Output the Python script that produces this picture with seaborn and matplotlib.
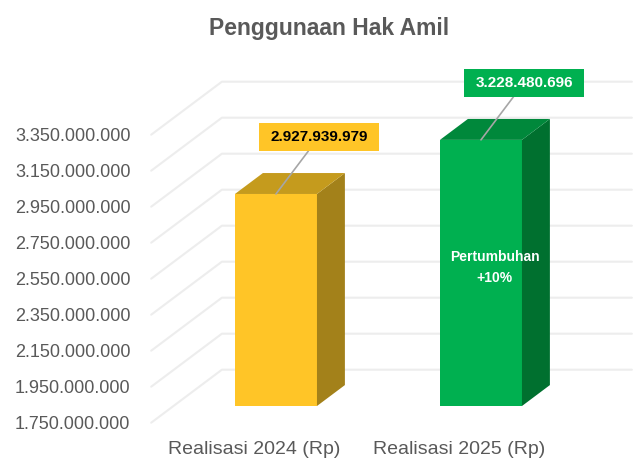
import matplotlib
matplotlib.use("Agg")
import matplotlib.pyplot as plt
import matplotlib.transforms as mtransforms
from matplotlib.patches import Polygon
from matplotlib.path import Path
import numpy as np
import pandas as pd
import seaborn as sns

# --- data -------------------------------------------------------------
categories = ["Realisasi 2024 (Rp)", "Realisasi 2025 (Rp)"]
values = [2927939979, 3228480696]
value_labels = ["2.927.939.979", "3.228.480.696"]
growth_label = "Pertumbuhan\n+10%"
y_ticks = [1750000000, 1950000000, 2150000000, 2350000000, 2550000000,
           2750000000, 2950000000, 3150000000, 3350000000]
y_tick_labels = ["1.750.000.000", "1.950.000.000", "2.150.000.000",
                 "2.350.000.000", "2.550.000.000", "2.750.000.000",
                 "2.950.000.000", "3.150.000.000", "3.350.000.000"]
title = "Penggunaan Hak Amil"

# --- style ------------------------------------------------------------
front_colors = ["#FFC527", "#00B050"]
top_colors = ["#C59B1D", "#00883B"]
side_colors = ["#A3811A", "#00702F"]
label_face = ["#FFC527", "#00B050"]
label_text = ["#000000", "#FFFFFF"]
grey_text = "#595959"
grid_color = "#EDEDED"

W, H, DPI = 635, 459, 100
DEPTH_X, DEPTH_Y = 70.7, 53.0      # pixel shift from front label plane to back wall
BAR_FRONT, BAR_BACK = 0.315, 0.71  # depth fractions of the bar faces

sns.set_style("white")
plt.rcParams["font.family"] = ["Liberation Sans", "DejaVu Sans"]

fig = plt.figure(figsize=(W / DPI, H / DPI), dpi=DPI)
ax = fig.add_axes([151.2 / W, (H - 422.7) / H, 410 / W, 288 / H])

df = pd.DataFrame({"kategori": categories, "nilai": values})
sns.barplot(data=df, x="kategori", y="nilai", hue="kategori",
            palette=front_colors, saturation=1, width=0.4, legend=False,
            edgecolor="none", ax=ax, zorder=2)
bars = list(ax.patches)

Y0, Y1 = y_ticks[0], y_ticks[-1]
ax.set_xlim(-0.5, 1.5)
ax.set_ylim(Y0, Y1)
for s in ax.spines.values():
    s.set_visible(False)
ax.set_xlabel("")
ax.set_ylabel("")
ax.set_yticks(y_ticks, y_tick_labels)
ax.tick_params(axis="y", length=0, pad=15, labelsize=13, labelcolor=grey_text)
ax.tick_params(axis="x", length=0, pad=13, labelsize=14, labelcolor=grey_text)

ident = mtransforms.IdentityTransform()


def depth_shift(d):
    return np.array([DEPTH_X * d, DEPTH_Y * d])


def px(x, y, d):
    return ax.transData.transform((x, y)) + depth_shift(d)


# 3D gridlines: diagonal on the side wall, horizontal on the back wall
xl0, xl1 = ax.get_xlim()
for v in y_ticks:
    a, b, c = px(xl0, v, 0), px(xl0, v, 1), px(xl1, v, 1)
    ax.plot([a[0], b[0], c[0]], [a[1], b[1], c[1]], transform=ident,
            color=grid_color, lw=1.5, zorder=0.5, clip_on=False,
            solid_joinstyle="round", solid_capstyle="round")

# 3D bars: front face from seaborn, then side and top faces
front_off = depth_shift(BAR_FRONT) / DPI
front_trans = ax.transData + mtransforms.ScaledTranslation(
    front_off[0], front_off[1], fig.dpi_scale_trans)
for i, p in enumerate(bars):
    v = values[i]
    x0 = p.get_x()
    x1 = x0 + p.get_width()
    p.set_y(Y0)
    p.set_height(v - Y0)
    p.set_transform(front_trans)
    p.set_clip_on(False)
    side = [px(x1, Y0, BAR_FRONT), px(x1, v, BAR_FRONT),
            px(x1, v, BAR_BACK), px(x1, Y0, BAR_BACK)]
    top = [px(x0, v, BAR_FRONT), px(x1, v, BAR_FRONT),
           px(x1, v, BAR_BACK), px(x0, v, BAR_BACK)]
    ax.add_patch(Polygon(side, closed=True, transform=ident, fc=side_colors[i],
                         ec="none", zorder=2.1, clip_on=False))
    ax.add_patch(Polygon(top, closed=True, transform=ident, fc=top_colors[i],
                         ec="none", zorder=2.2, clip_on=False))


def label_box(x0, y0, width, height, mutation_size):
    bw, bh = 120, 28
    cx, cy = x0 + width / 2, y0 + height / 2
    l, r, b, t = cx - bw / 2, cx + bw / 2, cy - bh / 2, cy + bh / 2
    return Path([(l, b), (r, b), (r, t), (l, t), (l, b)], closed=True)


# value callouts with leader lines
for i, p in enumerate(bars):
    cx = p.get_x() + p.get_width() / 2
    anchor = px(cx, values[i], BAR_FRONT)
    ax.annotate(value_labels[i], xy=anchor, xycoords="figure pixels",
                xytext=(43, 57), textcoords="offset pixels",
                ha="center", va="center", fontsize=11, fontweight="bold",
                color=label_text[i], zorder=5,
                bbox=dict(boxstyle=label_box, fc=label_face[i], ec="none"),
                arrowprops=dict(arrowstyle="-", color="#A6A6A6", lw=1.2,
                                shrinkA=0, shrinkB=0))

# growth note inside the 2025 bar
p = bars[1]
cx = p.get_x() + p.get_width() / 2
pos = px(cx, (Y0 + values[1]) / 2, (BAR_FRONT + BAR_BACK) / 2) - np.array([0, 5])
ax.text(pos[0], pos[1], growth_label, transform=ident, ha="center",
        va="center", fontsize=10, fontweight="bold", color="white",
        linespacing=1.6, zorder=5)

fig.text(329 / W, 1 - 35 / H, title, ha="center", va="baseline",
         fontsize=16.5, fontweight="bold", color=grey_text)

fig.savefig("out.png", dpi=DPI)
